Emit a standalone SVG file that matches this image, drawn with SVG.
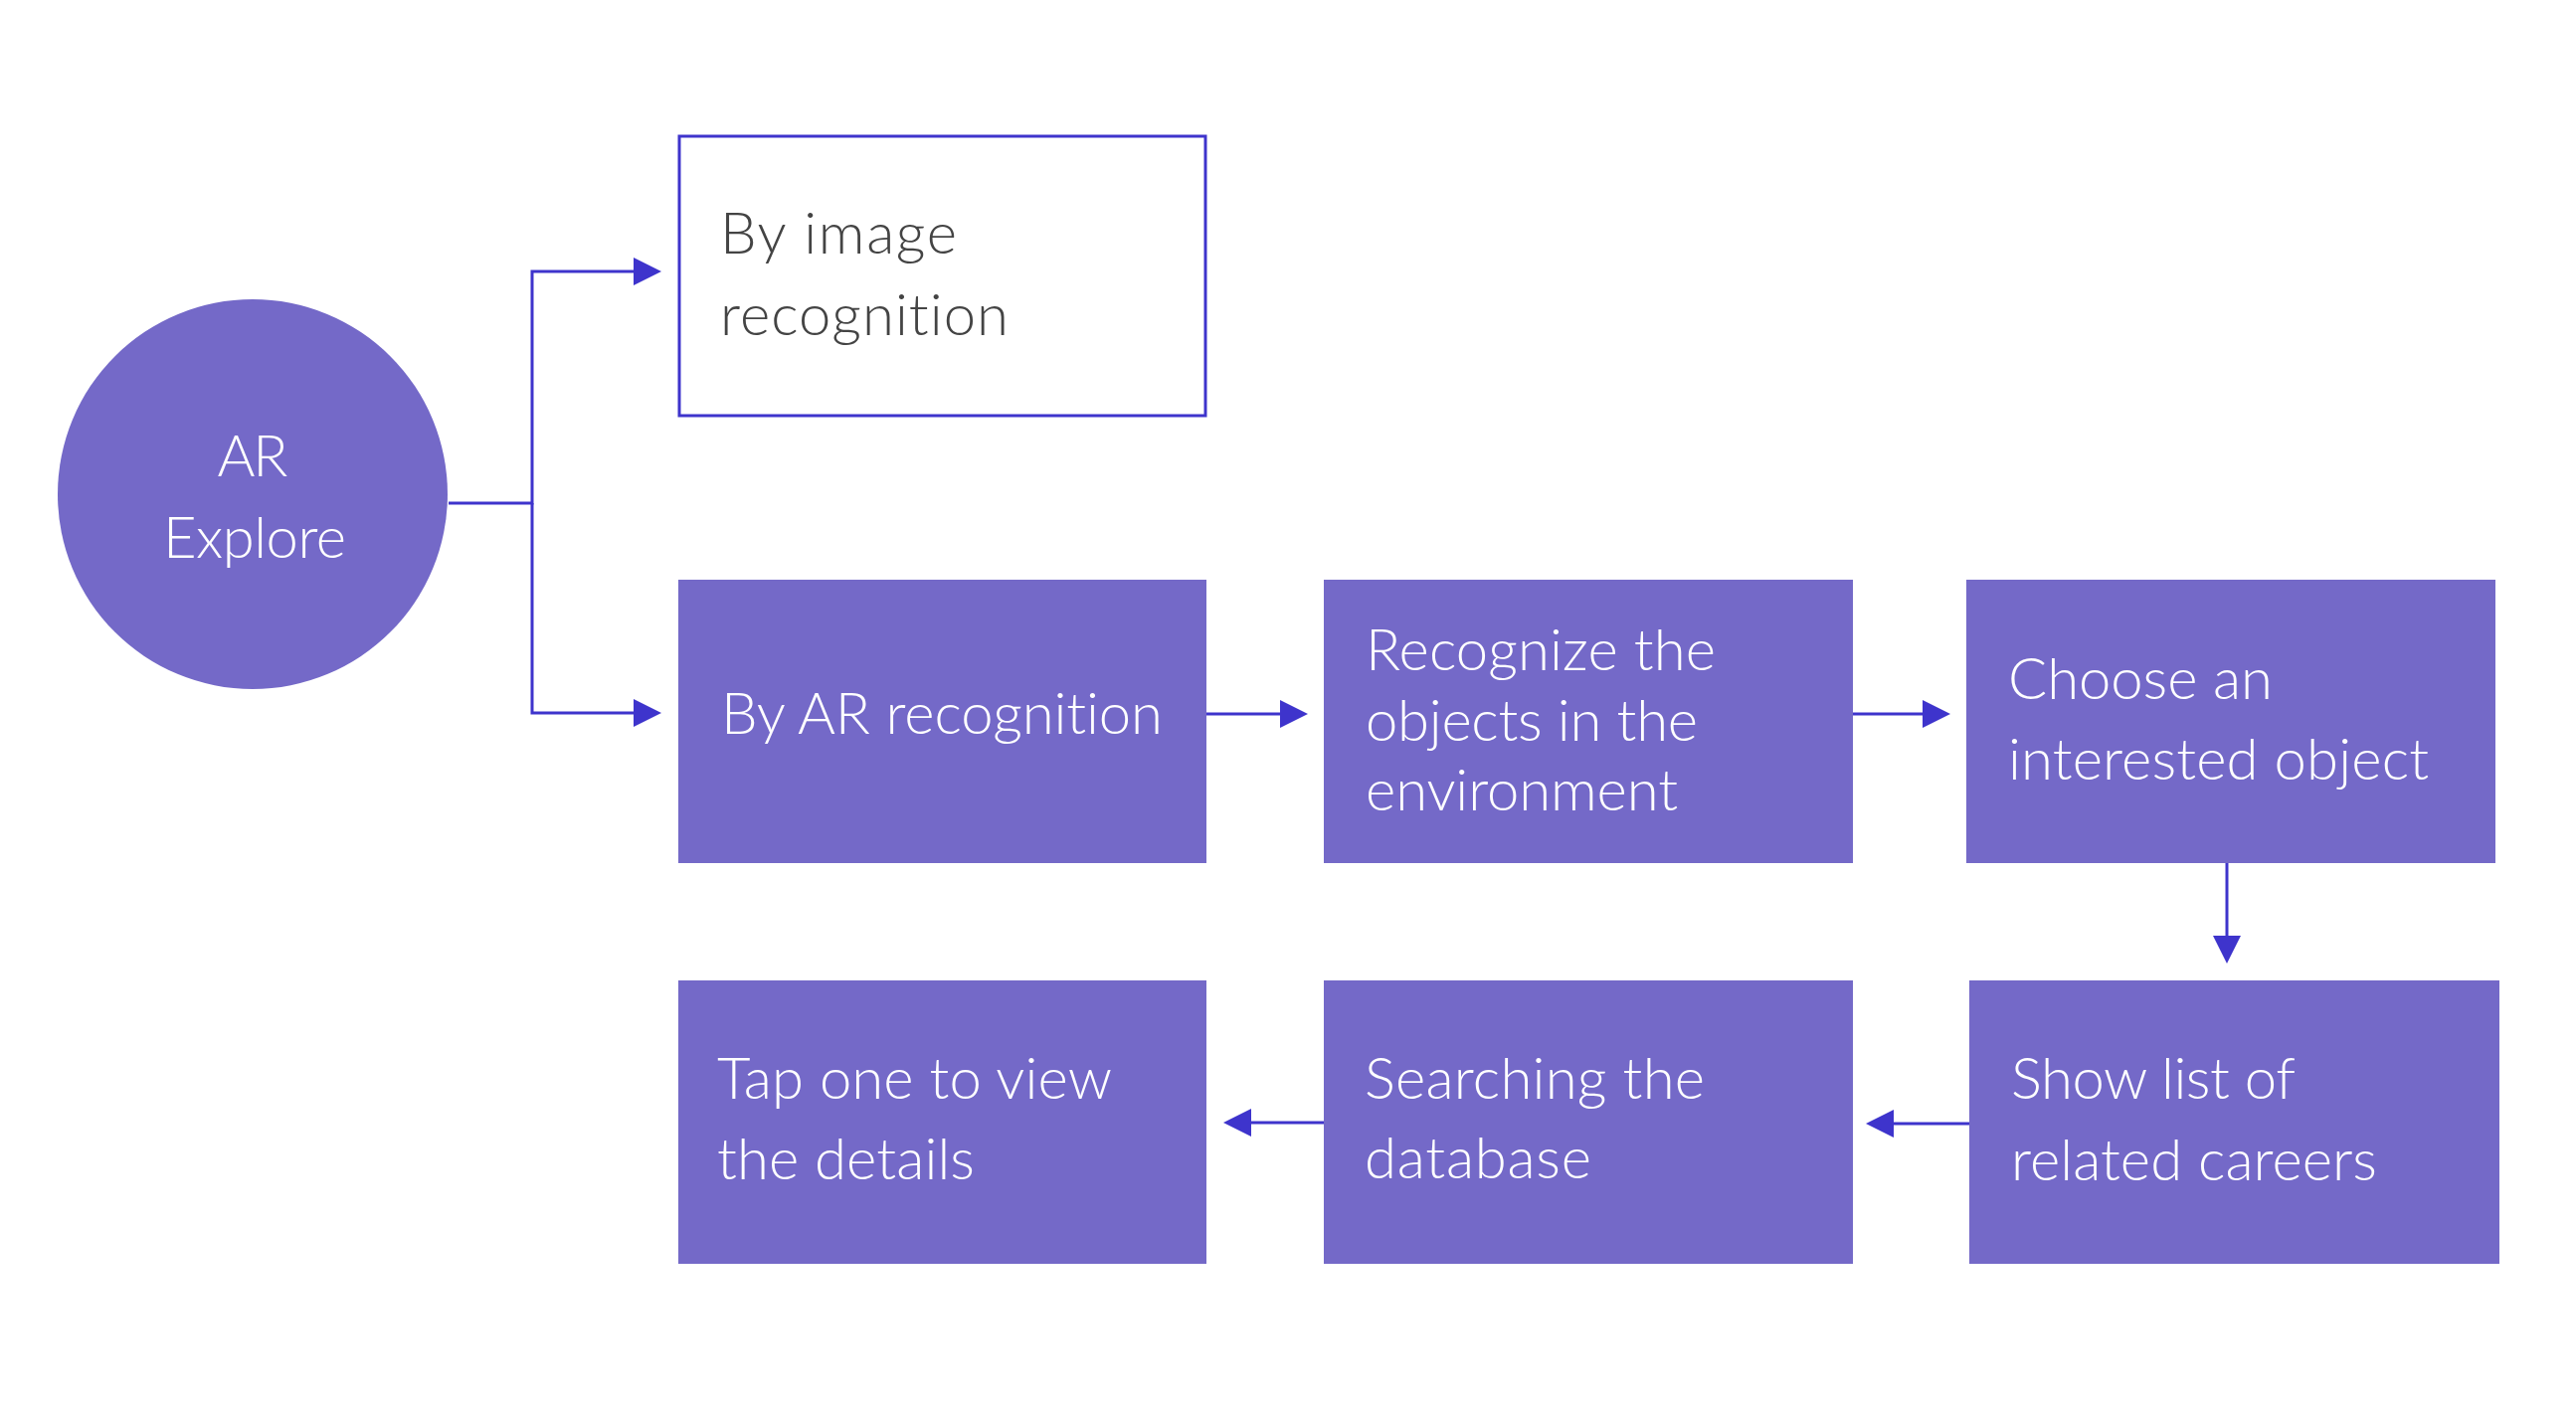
<svg xmlns="http://www.w3.org/2000/svg" width="2590" height="1414" viewBox="0 0 2590 1414">
<style>
.box{fill:#7469c8;}
.obox{fill:#ffffff;stroke:#3e34cc;stroke-width:3;}
.t{font-family:Lato,"Noto Sans","Liberation Sans",sans-serif;font-size:58px;font-weight:300;fill:#ffffff;font-variant-ligatures:none;}
.d{fill:#444444;}
.c{stroke:#3e34cc;stroke-width:3;fill:none;marker-end:url(#ah);}
</style>
<defs>
<marker id="ah" viewBox="0 0 28 28" refX="24" refY="14" markerWidth="28" markerHeight="28" markerUnits="userSpaceOnUse" orient="auto">
<path d="M0 0 L28 14 L0 28 Z" fill="#3e34cc"/>
</marker>
</defs>
<rect width="2590" height="1414" fill="#ffffff"/>
<g id="connectors">
<path class="c" d="M451 506 H535 V273 H661"/>
<path class="c" d="M535 506 V717 H661"/>
<path class="c" d="M1213 718 H1311"/>
<path class="c" d="M1863 718 H1957"/>
<path class="c" d="M2239 868 V965"/>
<path class="c" d="M1980 1130 H1880"/>
<path class="c" d="M1331 1129 H1234"/>
</g>
<g id="ar-explore">
<circle cx="254" cy="497" r="196" class="box"/>
<text class="t" x="254" y="479" text-anchor="middle" textLength="71">AR</text>
<text class="t" x="256" y="561" text-anchor="middle" textLength="184">Explore</text>
</g>
<g id="by-image">
<rect class="obox" x="683" y="137" width="529" height="281"/>
<text class="t d" x="724" y="255" textLength="238">By image</text>
<text class="t d" x="724" y="337" textLength="290">recognition</text>
</g>
<g id="by-ar">
<rect class="box" x="682" y="583" width="531" height="285"/>
<text class="t" x="725" y="738" textLength="444">By AR recognition</text>
</g>
<g id="recognize">
<rect class="box" x="1331" y="583" width="532" height="285"/>
<text class="t" x="1373" y="674" textLength="352">Recognize the</text>
<text class="t" x="1373" y="745" textLength="334">objects in the</text>
<text class="t" x="1373" y="815" textLength="314">environment</text>
</g>
<g id="choose">
<rect class="box" x="1977" y="583" width="532" height="285"/>
<text class="t" x="2019" y="703" textLength="266">Choose an</text>
<text class="t" x="2019" y="784" textLength="423">interested object</text>
</g>
<g id="show-list">
<rect class="box" x="1980" y="986" width="533" height="285"/>
<text class="t" x="2022" y="1105" textLength="286">Show list of</text>
<text class="t" x="2022" y="1187" textLength="368">related careers</text>
</g>
<g id="searching">
<rect class="box" x="1331" y="986" width="532" height="285"/>
<text class="t" x="1372" y="1105" textLength="342">Searching the</text>
<text class="t" x="1372" y="1185" textLength="228">database</text>
</g>
<g id="tap-one">
<rect class="box" x="682" y="986" width="531" height="285"/>
<text class="t" x="721" y="1105" textLength="397">Tap one to view</text>
<text class="t" x="721" y="1186" textLength="259">the details</text>
</g>
</svg>
